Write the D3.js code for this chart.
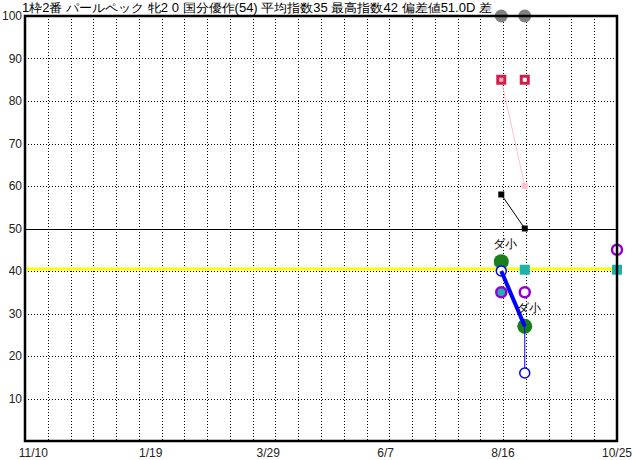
<!DOCTYPE html>
<html>
<head>
<meta charset="utf-8">
<script src="https://cdn.jsdelivr.net/npm/d3@7"></script>
<style>
  body { margin: 0; background: #fff; }
  text { font-family: "Liberation Sans", Arial, sans-serif; }
</style>
</head>
<body>
<div id="chart"></div>
<script>
// title and axis labels
var title = "1枠2番 パールペック 牝2 0 国分優作(54) 平均指数35 最高指数42 偏差値51.0D 差";
var yTicks = [10, 20, 30, 40, 50, 60, 70, 80, 90, 100];
var xTickLabels = ["11/10", "1/19", "3/29", "6/7", "8/16", "10/25"];
var xTickDates = ["2019-11-10", "2020-01-19", "2020-03-29", "2020-06-07", "2020-08-16", "2020-10-25"];

// race dates
var raceDates = ["2020-08-15", "2020-08-29"];
var lastDate = "2020-10-23";

// series values
var topValues = [100, 100];          // gray circles
var maxValues = [85, 85];            // crimson squares
var pinkValues = [85, 60];           // pink line
var blackValues = [58, 50];          // black squares
var greenValues = [42.2, 27];        // green circles
var blueValues = [40, 16];           // blue open circles
var purpleValues = [35, 35, 45];     // purple rings (last one on lastDate)
var tealValues = [40.3, 40.3];       // teal squares (2nd race, lastDate)
var avgLine = 40.5;                  // yellow line
var refLine = 50;                    // black line
var courseLabels = ["ダ小", "ダ小"];

var svgWidth = 632, svgHeight = 460;
var margin = { top: 16, right: 15, bottom: 19, left: 25 };
var chartWidth = svgWidth - margin.left - margin.right;
var chartHeight = svgHeight - margin.top - margin.bottom;

var parse = d3.timeParse("%Y-%m-%d");

var svg = d3.select("#chart").append("svg")
  .attr("width", svgWidth)
  .attr("height", svgHeight);

var chartGroup = svg.append("g")
  .attr("transform", `translate(${margin.left}, ${margin.top})`);

var xScale = d3.scaleTime()
  .domain([parse("2019-11-05"), parse(lastDate)])
  .range([0, chartWidth]);

var yScale = d3.scaleLinear()
  .domain([0, 100])
  .range([chartHeight, 0]);

// vertical dotted grid, 26 even columns
var gridScale = d3.scaleLinear().domain([0, 26]).range([0, chartWidth]);
chartGroup.selectAll(".vgrid")
  .data(d3.range(1, 26))
  .enter().append("line")
  .attr("x1", d => Math.round(gridScale(d)) + 0.5)
  .attr("x2", d => Math.round(gridScale(d)) + 0.5)
  .attr("y1", 0).attr("y2", chartHeight)
  .attr("stroke", "#000").attr("stroke-dasharray", "1,2");

// horizontal dotted grid
chartGroup.selectAll(".hgrid")
  .data(yTicks.filter(d => d < 100))
  .enter().append("line")
  .attr("x1", 0).attr("x2", chartWidth)
  .attr("y1", d => Math.round(yScale(d)) + 0.5)
  .attr("y2", d => Math.round(yScale(d)) + 0.5)
  .attr("stroke", "#000").attr("stroke-dasharray", "1,2");

// reference line at 50
chartGroup.append("line")
  .attr("x1", 0).attr("x2", chartWidth)
  .attr("y1", Math.round(yScale(refLine)) + 0.5)
  .attr("y2", Math.round(yScale(refLine)) + 0.5)
  .attr("stroke", "#000").attr("stroke-width", 1);

// average line
chartGroup.append("line")
  .attr("x1", 0).attr("x2", chartWidth)
  .attr("y1", yScale(avgLine)).attr("y2", yScale(avgLine))
  .attr("stroke", "#ffff00").attr("stroke-width", 3);

// y labels
svg.selectAll(".ylab")
  .data(yTicks)
  .enter().append("text")
  .attr("x", margin.left - 3)
  .attr("y", d => margin.top + yScale(d) + 4)
  .attr("text-anchor", "end")
  .attr("font-size", 12)
  .attr("fill", "#222")
  .text(d => d);

// x labels
svg.selectAll(".xlab")
  .data(xTickDates)
  .enter().append("text")
  .attr("x", (d, i) => Math.min(margin.left + xScale(parse(d)), svgWidth - 15))
  .attr("y", svgHeight - 3)
  .attr("text-anchor", "middle")
  .attr("font-size", 12)
  .attr("fill", "#222")
  .text((d, i) => xTickLabels[i]);

// title
svg.append("text")
  .attr("x", 22).attr("y", 12)
  .attr("font-family", "'Noto Sans CJK JP', sans-serif")
  .attr("font-size", 12)
  .attr("textLength", 470)
  .attr("lengthAdjust", "spacingAndGlyphs")
  .text(title);

var rx = raceDates.map(d => xScale(parse(d)));
var xLast = xScale(parse(lastDate));

// pink line and marker
chartGroup.append("path")
  .attr("d", d3.line()(pinkValues.map((v, i) => [rx[i], yScale(v)])))
  .attr("stroke", "#ffc0cb").attr("fill", "none");
chartGroup.append("rect")
  .attr("x", rx[1] - 3).attr("y", yScale(pinkValues[1]) - 3)
  .attr("width", 6).attr("height", 6).attr("fill", "#ffc0cb");

// black line and squares
chartGroup.append("path")
  .attr("d", d3.line()(blackValues.map((v, i) => [rx[i], yScale(v)])))
  .attr("stroke", "#000").attr("fill", "none");
chartGroup.selectAll(".blk")
  .data(blackValues)
  .enter().append("rect")
  .attr("x", (d, i) => rx[i] - 3).attr("y", d => yScale(d) - 3)
  .attr("width", 6).attr("height", 6).attr("fill", "#000");

// gray circles
chartGroup.selectAll(".gray")
  .data(topValues)
  .enter().append("circle")
  .attr("cx", (d, i) => rx[i]).attr("cy", d => yScale(d))
  .attr("r", 6.5).attr("fill", "#808080");

// crimson squares
chartGroup.selectAll(".maxsq")
  .data(maxValues)
  .enter().append("rect")
  .attr("x", (d, i) => rx[i] - 3.5).attr("y", d => yScale(d) - 3.5)
  .attr("width", 7).attr("height", 7)
  .attr("fill", (d, i) => i == 0 ? "#ffb0b8" : "#fff")
  .attr("stroke", "#d0204a").attr("stroke-width", i => 3);

// teal squares
var tealX = [rx[1], xLast];
chartGroup.selectAll(".teal")
  .data(tealValues)
  .enter().append("rect")
  .attr("x", (d, i) => tealX[i] - 5).attr("y", d => yScale(d) - 5)
  .attr("width", 10).attr("height", 10)
  .attr("fill", "#20b2aa");

// purple rings
var purpleX = [rx[0], rx[1], xLast];
chartGroup.selectAll(".purple")
  .data(purpleValues)
  .enter().append("circle")
  .attr("cx", (d, i) => purpleX[i]).attr("cy", d => yScale(d))
  .attr("r", 5)
  .attr("fill", (d, i) => i == 0 ? "#20b2aa" : "#fff")
  .attr("stroke", "#9400d3").attr("stroke-width", 2.5);

// green circles
chartGroup.selectAll(".green")
  .data(greenValues)
  .enter().append("circle")
  .attr("cx", (d, i) => rx[i]).attr("cy", d => yScale(d))
  .attr("r", 7.5).attr("fill", "#1a7f1a");

// blue open circles
chartGroup.selectAll(".blue")
  .data(blueValues)
  .enter().append("circle")
  .attr("cx", (d, i) => rx[i]).attr("cy", d => yScale(d))
  .attr("r", 5).attr("fill", "#fff")
  .attr("stroke", "#0000ff").attr("stroke-width", 1.5);

// blue thick line from first blue circle to second green circle
chartGroup.append("path")
  .attr("d", d3.line()([[rx[0], yScale(blueValues[0])], [rx[1], yScale(greenValues[1])]]))
  .attr("stroke", "#0000ff").attr("stroke-width", 4).attr("fill", "none");
// thin blue drop
chartGroup.append("path")
  .attr("d", d3.line()([[rx[1], yScale(greenValues[1])], [rx[1], yScale(blueValues[1]) - 5]]))
  .attr("stroke", "#0000ff").attr("stroke-width", 1).attr("fill", "none");

// course labels
chartGroup.selectAll(".course")
  .data(courseLabels)
  .enter().append("text")
  .attr("x", (d, i) => rx[i] + 4)
  .attr("y", (d, i) => yScale(greenValues[i]) - 14)
  .attr("text-anchor", "middle")
  .attr("font-family", "'Noto Sans CJK JP', sans-serif")
  .attr("font-size", 12)
  .text(d => d);

// frame
chartGroup.append("rect")
  .attr("x", 0).attr("y", 0)
  .attr("width", chartWidth).attr("height", chartHeight)
  .attr("fill", "none").attr("stroke", "#000").attr("stroke-width", 2.5);
</script>
</body>
</html>
